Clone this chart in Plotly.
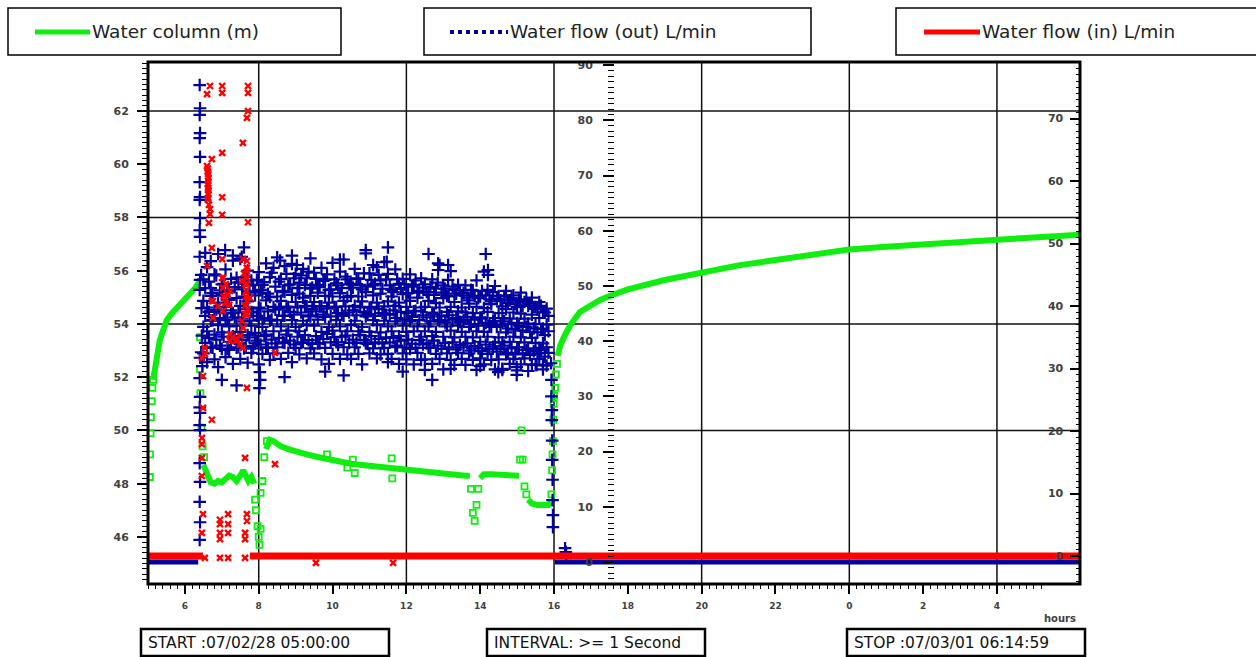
import plotly.graph_objects as go

# ---------------- data ----------------
# hours since 00:00 of 07/02/28 (24+ = next day)
x_tick_vals = [6, 8, 10, 12, 14, 16, 18, 20, 22, 24, 26, 28, 30]
x_tick_text = ["6", "8", "10", "12", "14", "16", "18", "20", "22", "0", "2", "4", "6"]
grid_hours = [8, 12, 16, 20, 24, 28]
grid_m = [50, 54, 58, 62]

# Water column (m) - dense logged segments (None = break)
wc_line_t = [5.14, 5.19, 5.24, 5.32, 5.42, 5.51, 5.65, 5.78, 5.92, 6.05, 6.15, 6.28, 6.40, None,
             6.50, 6.55, 6.62, 6.70, 6.80, 6.90, 7.00, 7.10, 7.20, 7.30, 7.40, 7.50, 7.58, 7.65, 7.72, 7.80, 7.88, None,
             8.20, 8.30, 8.40, 8.60, 8.80, 9.00, 9.30, 9.60, 9.90, 10.20, 10.50, 10.80, 11.10, 11.40, 11.70,
             12.00, 12.40, 12.80, 13.20, 13.60, 13.72, None,
             14.00, 14.10, 14.30, 14.60, 14.90, 15.05, None,
             15.30, 15.40, 15.55, 15.70, 15.85, 15.92, None,
             16.10, 16.17, 16.30, 16.44, 16.70, 17.00, 17.25, 17.50, 18.00, 19.00, 20.00, 21.00, 22.00,
             23.00, 24.00, 25.00, 26.00, 27.00, 28.00, 29.00, 30.25]
wc_line_m = [51.9, 52.3, 52.6, 53.4, 53.8, 54.15, 54.4, 54.6, 54.8, 54.95, 55.15, 55.35, 55.6, None,
             48.7, 48.5, 48.3, 48.05, 48.0, 48.1, 48.05, 48.2, 48.3, 48.25, 48.1, 48.3, 48.5, 48.3, 48.1, 48.25, 48.0, None,
             49.3, 49.65, 49.6, 49.4, 49.3, 49.2, 49.1, 49.0, 48.9, 48.85, 48.75, 48.7, 48.65, 48.6, 48.55,
             48.5, 48.45, 48.4, 48.35, 48.3, 48.3, None,
             48.2, 48.35, 48.35, 48.35, 48.3, 48.3, None,
             47.4, 47.25, 47.2, 47.2, 47.2, 47.3, None,
             52.8, 53.2, 53.6, 53.95, 54.45, 54.7, 54.9, 55.05, 55.3, 55.65, 55.95, 56.2, 56.4,
             56.6, 56.8, 56.9, 57.0, 57.1, 57.15, 57.25, 57.35]
# Water column - isolated readings during fast changes
wc_pts_t = [5.05, 5.055, 5.07, 5.08, 5.10, 5.12, 5.14,
            6.41, 6.41, 6.42, 6.45, 6.48, 6.52,
            7.90, 7.92, 7.97, 8.00, 8.02, 8.05, 8.05, 8.10, 8.15, 8.22,
            9.85, 10.40, 10.55, 10.60, 11.60, 11.62,
            13.75, 13.80, 13.85, 13.90, 13.95,
            15.08, 15.12, 15.15, 15.20, 15.25,
            15.93, 15.95, 15.96, 15.97, 15.98, 15.99, 16.00, 16.03, 16.05, 16.08]
wc_pts_m = [48.25, 49.1, 49.9, 50.5, 51.1, 51.6, 51.9,
            53.5, 52.3, 51.4, 50.1, 49.4, 49.0,
            47.4, 47.0, 46.4, 46.0, 45.7, 46.3, 47.65, 48.1, 49.0, 49.6,
            49.1, 48.6, 48.9, 48.4, 48.95, 48.2,
            47.8, 46.9, 46.6, 47.2, 47.8,
            48.9, 50.0, 48.9, 47.9, 47.6,
            47.6, 48.5, 49.1, 49.6, 50.4, 51.0, 51.3, 51.6, 52.1, 52.5]

# Water flow (out) L/min
out_base_t = [5.0, 6.36, None, 16.02, 30.25]
out_base_v = [0, 0, None, 0, 0]
# readings on the 0.1 h grid
out_t1 = [6.5, 6.6, 6.7, 6.8, 6.9, 7.0, 7.1, 7.2, 7.3, 7.4,
          7.5, 7.6, 7.7, 7.8, 7.9, 8.0, 8.1, 8.2, 8.3, 8.4,
          8.5, 8.6, 8.7, 8.8, 8.9, 9.0, 9.1, 9.2, 9.3, 9.4,
          9.5, 9.6, 9.7, 9.8, 9.9, 10.0, 10.1, 10.2, 10.3, 10.4,
          10.5, 10.6, 10.7, 10.8, 10.9, 11.0, 11.1, 11.2, 11.3, 11.4,
          11.5, 11.6, 11.7, 11.8, 11.9, 12.0, 12.1, 12.2, 12.3, 12.4,
          12.5, 12.6, 12.7, 12.8, 12.9, 13.0, 13.1, 13.2, 13.3, 13.4,
          13.5, 13.6, 13.7, 13.8, 13.9, 14.0, 14.1, 14.2, 14.3, 14.4,
          14.5, 14.6, 14.7, 14.8, 14.9, 15.0, 15.1, 15.2, 15.3, 15.4,
          15.5, 15.6, 15.7, 15.8]
out_a1 = [51.2, 53.4, 49.6, 52.1, 55.8, 50.3, 53.0, 49.2, 54.6, 51.5,
          54.9, 50.4, 52.8, 51.0, 49.1, 52.5, 50.2, 54.1, 51.6, 53.3,
          55.2, 51.3, 53.6, 50.1, 54.0, 52.2, 50.6, 53.1, 51.4, 49.5,
          52.4, 50.2, 53.3, 51.1, 49.3, 54.2, 50.5, 52.6, 54.8, 51.2,
          50.4, 53.1, 51.3, 49.4, 55.9, 52.3, 50.1, 53.4, 51.0, 54.3,
          52.2, 49.3, 53.0, 50.4, 51.3, 48.6, 52.1, 50.2, 49.1, 51.4,
          50.3, 48.4, 51.2, 49.5, 53.8, 50.1, 48.2, 52.7, 49.3, 50.2,
          48.3, 50.1, 47.4, 49.2, 51.0, 48.1, 52.6, 49.3, 47.2, 50.0,
          48.2, 46.3, 49.1, 47.4, 48.3, 46.2, 48.8, 47.1, 46.4, 47.9,
          46.2, 47.1, 45.3, 45.9]
out_b1 = [47.3, 46.1, 48.2, 45.4, 47.0, 48.4, 46.2, 47.5, 45.1, 47.8,
          46.4, 48.1, 47.2, 45.3, 48.3, 46.1, 48.8, 47.4, 48.0, 46.2,
          48.1, 47.3, 48.9, 46.2, 48.4, 47.1, 48.6, 47.9, 46.3, 48.2,
          47.1, 48.8, 46.3, 48.2, 47.0, 48.1, 46.2, 48.7, 47.3, 48.0,
          48.2, 46.4, 48.1, 47.2, 48.9, 46.1, 48.3, 47.0, 48.6, 46.3,
          47.2, 48.1, 46.4, 47.0, 48.5, 46.2, 47.3, 45.4, 47.9, 46.1,
          46.2, 47.3, 45.2, 46.9, 46.1, 47.8, 45.3, 46.2, 47.1, 45.4,
          46.1, 45.2, 46.8, 45.1, 46.2, 44.3, 46.0, 45.3, 46.7, 44.2,
          45.1, 44.2, 45.8, 44.1, 45.2, 43.3, 45.0, 44.1, 43.2, 44.8,
          43.1, 44.2, 42.3, 43.0]
out_c1 = [42.6, 41.8, 43.7, 41.2, 42.9, 41.6, 43.8, 42.7, 40.9, 42.8,
          41.7, 43.6, 41.1, 42.8, 41.5, 43.9, 42.6, 41.2, 43.7, 41.8,
          43.8, 42.7, 44.6, 41.9, 43.8, 42.6, 41.8, 43.7, 42.9, 44.5,
          42.8, 43.9, 41.7, 44.4, 42.6, 41.9, 43.8, 42.7, 44.6, 41.8,
          42.9, 43.7, 41.8, 42.6, 44.5, 41.7, 43.8, 42.9, 41.6, 43.7,
          42.7, 41.8, 43.6, 40.9, 42.8, 41.7, 43.6, 41.8, 42.7, 40.8,
          41.8, 42.7, 40.9, 41.7, 43.6, 40.8, 42.7, 41.9, 40.7, 42.8,
          41.7, 40.8, 42.6, 40.7, 41.8, 39.9, 41.7, 40.8, 42.6, 39.8,
          40.7, 39.8, 41.6, 39.9, 40.8, 38.9, 40.7, 39.8, 38.7, 40.6,
          39.7, 38.8, 39.6, 38.9]
out_d1 = [37.8, 36.2, 38.9, 36.7, 35.3, 38.6, 37.1, 38.4, 35.9, 38.8,
          36.8, 38.7, 36.1, 37.9, 39.6, 35.8, 37.7, 38.9, 36.6, 37.8,
          38.9, 36.8, 39.7, 37.9, 36.2, 38.8, 37.6, 39.8, 36.9, 38.7,
          37.8, 39.6, 36.7, 38.8, 35.9, 37.7, 39.8, 36.8, 38.9, 37.6,
          36.8, 38.9, 37.7, 35.8, 39.6, 37.8, 38.7, 36.9, 37.6, 38.8,
          37.7, 36.8, 38.9, 35.9, 37.8, 36.7, 38.6, 35.8, 37.9, 36.6,
          36.7, 38.8, 35.9, 37.7, 36.8, 34.9, 37.8, 36.6, 35.7, 37.9,
          36.8, 35.7, 37.8, 36.6, 34.8, 36.9, 35.8, 37.7, 36.6, 34.9,
          36.7, 34.8, 37.6, 35.9, 36.8, 34.7, 35.8, 36.9, 34.6, 35.8,
          35.7, 36.8, 34.9, 35.6]
# readings in between (0.05 h later)
out_t2 = [6.55, 6.65, 6.75, 6.85, 6.95, 7.05, 7.15, 7.25, 7.35, 7.45,
          7.55, 7.65, 7.75, 7.85, 7.95, 8.05, 8.15, 8.25, 8.35, 8.45,
          8.55, 8.65, 8.75, 8.85, 8.95, 9.05, 9.15, 9.25, 9.35, 9.45,
          9.55, 9.65, 9.75, 9.85, 9.95, 10.05, 10.15, 10.25, 10.35, 10.45,
          10.55, 10.65, 10.75, 10.85, 10.95, 11.05, 11.15, 11.25, 11.35, 11.45,
          11.55, 11.65, 11.75, 11.85, 11.95, 12.05, 12.15, 12.25, 12.35, 12.45,
          12.55, 12.65, 12.75, 12.85, 12.95, 13.05, 13.15, 13.25, 13.35, 13.45,
          13.55, 13.65, 13.75, 13.85, 13.95, 14.05, 14.15, 14.25, 14.35, 14.45,
          14.55, 14.65, 14.75, 14.85, 14.95, 15.05, 15.15, 15.25, 15.35, 15.45,
          15.55, 15.65, 15.75, 15.85]
out_e2 = [49.6, 50.8, 48.7, 51.9, 49.2, 50.4, 48.9, 51.3, 49.8, 50.6,
          49.4, 51.6, 48.8, 50.2, 51.1, 49.3, 50.7, 48.6, 52.4, 49.9,
          50.8, 49.1, 52.2, 50.3, 51.4, 49.6, 51.9, 50.2, 52.6, 49.7,
          51.3, 49.8, 50.9, 52.1, 49.4, 51.2, 50.1, 49.6, 51.7, 50.3,
          49.7, 51.4, 50.2, 52.3, 49.9, 51.1, 50.4, 52.0, 49.5, 51.2,
          50.1, 48.9, 51.2, 49.6, 50.3, 48.7, 49.9, 51.0, 48.8, 49.7,
          48.9, 49.8, 48.4, 50.6, 48.8, 49.5, 48.1, 49.9, 48.6, 49.2,
          48.7, 47.9, 49.3, 48.2, 47.8, 49.1, 48.3, 47.6, 48.9, 47.7,
          47.4, 48.2, 46.9, 47.8, 46.7, 47.5, 46.4, 47.6, 46.8, 46.2,
          45.8, 46.4, 45.2, 44.6]
out_f2 = [44.6, 45.3, 43.8, 45.7, 44.2, 45.1, 43.9, 45.6, 44.3, 45.2,
          44.1, 45.8, 43.7, 45.2, 44.6, 45.9, 44.2, 45.4, 43.9, 45.7,
          45.9, 44.6, 46.2, 45.3, 44.8, 46.1, 45.2, 46.4, 44.7, 45.8,
          45.4, 46.3, 44.8, 45.9, 44.5, 46.2, 45.1, 44.9, 46.3, 45.2,
          45.6, 44.7, 46.1, 45.3, 44.9, 46.2, 44.6, 45.8, 45.1, 44.8,
          44.9, 45.6, 44.2, 45.3, 43.9, 45.1, 44.4, 45.5, 43.8, 44.7,
          44.3, 43.6, 44.9, 43.8, 44.5, 43.4, 44.7, 43.9, 44.2, 43.5,
          43.8, 44.4, 43.1, 43.9, 42.8, 44.1, 43.3, 42.9, 43.7, 42.6,
          42.9, 43.6, 42.3, 43.1, 42.1, 42.8, 41.9, 42.6, 41.7, 42.3,
          41.6, 42.2, 41.1, 41.8]
out_g2 = [39.7, 40.6, 38.8, 40.3, 39.2, 40.8, 38.6, 39.9, 40.4, 38.9,
          40.2, 39.1, 40.7, 38.7, 40.1, 39.4, 40.9, 38.8, 40.3, 39.6,
          40.6, 39.8, 41.2, 40.1, 39.4, 40.8, 39.7, 41.1, 40.2, 39.5,
          40.9, 39.6, 40.4, 41.3, 39.8, 40.7, 39.3, 40.8, 41.0, 39.7,
          40.3, 39.7, 41.1, 40.2, 39.5, 40.9, 39.8, 40.4, 39.6, 40.7,
          39.8, 40.6, 39.2, 40.1, 38.9, 40.3, 39.5, 38.8, 40.2, 39.4,
          39.6, 38.8, 40.1, 39.2, 38.6, 39.7, 38.9, 39.8, 38.5, 39.3,
          38.9, 39.6, 38.3, 39.1, 38.7, 38.2, 39.4, 38.6, 39.0, 38.1,
          38.6, 39.2, 37.9, 38.7, 37.6, 38.9, 37.8, 38.4, 37.5, 38.2,
          37.8, 38.4, 37.2, 37.9]
out_pts_t = [6.40, 6.41, 6.40, 6.41, 6.40, 6.41, 6.40, 6.41, 6.40, 6.41, 6.40, 6.41, 6.40, 6.41, 6.40,
             6.41, 6.40, 6.41, 6.40, 6.41, 6.40, 6.41, 6.40, 6.41, 6.40, 6.41, 6.40,
             6.44, 6.45, 6.46, 6.44, 6.47,
             8.02, 8.03, 8.04,
             6.55, 6.70, 7.09, 7.30, 7.54, 7.60, 8.58, 8.90, 9.03, 9.40, 10.20, 10.90, 11.10, 11.47,
             11.50, 12.60, 12.86, 12.86, 13.13, 13.13, 14.15, 14.21, 14.21,
             7.00, 7.40, 8.70, 9.80, 10.30, 11.50, 11.90, 12.50, 12.70, 13.20, 14.00, 14.49, 14.60,
             14.99, 14.99, 15.53, 15.70,
             15.92, 15.93, 15.93, 15.94, 15.94, 15.95, 15.95, 15.96, 15.96, 15.97, 15.97,
             16.30, 16.32, 16.33]
out_pts_v = [86.4, 82.2, 81.0, 77.7, 76.8, 73.4, 68.8, 66.1, 65.6, 62.3, 60.1, 58.9, 55.3, 51.1, 49.3,
             37.0, 33.3, 29.9, 28.0, 27.0, 24.8, 23.9, 17.9, 14.5, 10.9, 7.2, 4.0,
             52.0, 46.0, 41.0, 38.0, 35.5,
             31.5, 34.4, 33.0,
             56.0, 54.5, 56.5, 55.5, 55.3, 57.0, 54.6, 55.5, 53.8, 55.0, 54.8, 56.5, 53.8, 54.4,
             57.0, 55.8, 54.1, 52.9, 53.8, 51.1, 55.8, 52.9, 52.0,
             33.0, 32.0, 33.5, 34.5, 33.8, 36.2, 34.5, 34.8, 33.0, 35.0, 35.5, 34.4, 35.0,
             35.3, 33.9, 35.7, 35.6,
             36.0, 33.0, 30.0, 27.5, 25.7, 22.0, 18.5, 14.9, 11.2, 8.5, 6.3,
             2.5, 1.8, 1.2]

# Water flow (in) L/min
in_line_t = [5.0, 6.49, None, 7.76, 30.25]
in_line_v = [0, 0, None, 0, 0]
in_pts_t = [6.68, 7.01, 7.71, 6.60, 7.01, 7.71, 7.71, 7.68, 7.57, 7.01, 6.73, 6.60,
            6.63, 6.63, 6.63, 6.63, 6.63, 7.01, 6.68, 7.01, 6.65, 7.71, 6.73, 7.01,
            6.60, 7.68, 7.68, 7.68, 7.01, 7.11, 7.22, 7.55, 7.66, 7.76, 6.73, 6.90,
            7.03, 7.68, 7.68, 7.55, 7.22, 7.38, 7.57, 6.54, 6.54, 8.44, 7.68, 6.49,
            6.73, 6.46, 6.46, 7.63, 6.46, 8.44, 6.46, 6.49, 6.95, 6.95, 7.17, 7.17,
            7.68, 7.68, 6.46, 6.95, 7.17, 7.63, 6.95, 7.63, 6.54, 6.95, 7.17, 7.63,
            9.55, 11.64,
            7.57, 7.68, 7.68, 7.03, 7.03, 7.63, 7.63, 7.63, 6.76, 6.76, 7.22, 7.49, 6.49, 6.46,
            6.62, 6.62, 6.64, 6.62, 6.64, 6.62, 6.65, 6.68,
            7.05, 7.10, 7.15, 7.20, 7.60, 7.65, 7.70, 7.58, 7.30, 7.40, 7.50]
in_pts_v = [75.2, 75.2, 75.2, 73.9, 74.1, 74.1, 71.2, 70.1, 66.1, 64.5, 63.5, 62.4,
            61.1, 60.0, 58.9, 57.9, 57.3, 57.4, 54.7, 54.6, 53.3, 53.4, 49.3, 47.5,
            46.4, 47.2, 45.6, 43.5, 44.5, 43.5, 42.4, 44.0, 42.4, 41.3, 40.8, 40.0,
            39.2, 40.8, 38.7, 37.6, 35.5, 34.4, 33.3, 33.3, 32.3, 32.5, 26.9, 23.7,
            21.8, 18.9, 17.9, 15.7, 15.7, 14.7, 12.8, 6.7, 5.8, 5.1, 6.7, 5.1,
            6.7, 5.6, 3.7, 3.7, 3.7, 3.7, 2.7, 2.7, -0.3, -0.3, -0.3, -0.3,
            -1.1, -1.1,
            47.5, 46.1, 44.5, 44.5, 42.9, 43.5, 40.0, 38.7, 40.8, 38.1, 34.4, 33.9, 28.8, 31.7,
            62.0, 61.5, 60.5, 59.5, 58.5, 57.0, 56.2, 55.5,
            41.5, 40.5, 41.8, 40.2, 45.2, 41.5, 39.5, 36.5, 35.0, 34.8, 35.2]

# ---------------- figure ----------------
GREEN = "#10ee10"
BLUE = "#0000a0"
RED = "#ff0000"
TICKC = "#404040"

fig = go.Figure()

fig.add_trace(go.Scatter(x=out_base_t, y=out_base_v, yaxis="y2", mode="lines",
                         line=dict(color=BLUE, width=5), hoverinfo="skip", showlegend=False))
fig.add_trace(go.Scatter(x=in_line_t, y=in_line_v, yaxis="y3", mode="lines",
                         line=dict(color=RED, width=7), hoverinfo="skip", showlegend=False))
cloud_x = out_t1 * 4 + out_t2 * 3
cloud_y = out_a1 + out_b1 + out_c1 + out_d1 + out_e2 + out_f2 + out_g2
fig.add_trace(go.Scatter(x=cloud_x + out_pts_t, y=cloud_y + out_pts_v, yaxis="y2", mode="markers",
                         marker=dict(symbol="cross-thin", size=9, line=dict(color=BLUE, width=2.2)),
                         showlegend=False))
fig.add_trace(go.Scatter(x=in_pts_t, y=in_pts_v, yaxis="y3", mode="markers",
                         marker=dict(symbol="x-thin", size=6, line=dict(color=RED, width=2.4)),
                         showlegend=False))
fig.add_trace(go.Scatter(x=wc_line_t, y=wc_line_m, yaxis="y", mode="lines",
                         line=dict(color=GREEN, width=6), connectgaps=False, showlegend=False))
fig.add_trace(go.Scatter(x=wc_pts_t, y=wc_pts_m, yaxis="y", mode="markers",
                         marker=dict(symbol="square-open", size=6, line=dict(color=GREEN, width=1.8),
                                     color=GREEN), showlegend=False))

tickfont_y = dict(family="DejaVu Sans", size=11, color=TICKC, weight="bold")
tickfont_x = dict(family="DejaVu Sans", size=9, color=TICKC, weight="bold")

fig.update_layout(
    width=1256, height=657,
    margin=dict(l=148, r=176, t=62, b=73),
    paper_bgcolor="white", plot_bgcolor="white",
    showlegend=False,
    xaxis=dict(range=[5.0, 30.25], tickmode="array", tickvals=x_tick_vals, ticktext=x_tick_text,
               ticks="outside", ticklen=9, tickwidth=1.5, tickcolor="black",
               minor=dict(dtick=0.2, tick0=0, ticks="outside", ticklen=4, tickwidth=1, tickcolor="black"),
               showgrid=False, zeroline=False, showline=False, tickfont=tickfont_x,
               ticklabelstandoff=4),
    yaxis=dict(range=[44.23, 63.84], dtick=2, tick0=0, ticks="outside", ticklen=10, tickwidth=1.5,
               tickcolor="black",
               minor=dict(dtick=0.2, tick0=0, ticks="outside", ticklen=5, tickwidth=1, tickcolor="black"),
               showgrid=False, zeroline=False, showline=False, tickfont=tickfont_y,
               ticklabelstandoff=6),
    yaxis2=dict(range=[-3.99, 90.58], overlaying="y", anchor="free", position=0.5, side="left",
                dtick=10, tick0=0, ticks="outside", ticklen=11, tickwidth=1.5, tickcolor="black",
                minor=dict(dtick=1, tick0=0, ticks="outside", ticklen=6, tickwidth=1, tickcolor="black"),
                showgrid=False, zeroline=False, showline=False, tickfont=tickfont_y,
                ticklabelstandoff=8),
    yaxis3=dict(range=[-4.48, 79.04], overlaying="y", anchor="x", side="right",
                dtick=10, tick0=0, ticks="inside", ticklen=10, tickwidth=1.5, tickcolor="black",
                ticklabelposition="inside",
                minor=dict(dtick=1, tick0=0, ticks="inside", ticklen=4, tickwidth=1, tickcolor="black"),
                showgrid=False, zeroline=False, showline=False, tickfont=tickfont_y,
                ticklabelstandoff=6),
)

shapes = []
for h in grid_hours:
    shapes.append(dict(type="line", xref="x", yref="paper", x0=h, x1=h, y0=0, y1=1,
                       line=dict(color="#111", width=1.5), layer="below"))
for m in grid_m:
    shapes.append(dict(type="line", xref="paper", yref="y", x0=0, x1=1, y0=m, y1=m,
                       line=dict(color="#111", width=1.5), layer="below"))
# plot frame
shapes.append(dict(type="rect", xref="paper", yref="paper", x0=0, x1=1, y0=0, y1=1,
                   line=dict(color="black", width=3), layer="above"))


def px_x(px):
    return (px - 148) / 932.0


def px_y(py):
    return (584 - py) / 522.0


# legend boxes at top
legend_items = [
    (8, 341, 35, 90, GREEN, "solid", "Water column (m)"),
    (424, 811, 450, 508, BLUE, "dot", "Water flow (out) L/min"),
    (896, 1300, 924, 980, RED, "solid", "Water flow (in) L/min"),
]
annotations = []
for bx0, bx1, lx0, lx1, col, dash, label in legend_items:
    shapes.append(dict(type="rect", xref="paper", yref="paper", x0=px_x(bx0), x1=px_x(bx1),
                       y0=px_y(55), y1=px_y(8), line=dict(color="black", width=1.5),
                       fillcolor="white", layer="above"))
    shapes.append(dict(type="line", xref="paper", yref="paper", x0=px_x(lx0), x1=px_x(lx1),
                       y0=px_y(32), y1=px_y(32),
                       line=dict(color=col, width=5 if dash == "solid" else 4, dash=dash),
                       layer="above"))
    annotations.append(dict(xref="paper", yref="paper", x=px_x(lx1), y=px_y(32), xanchor="left",
                            yanchor="middle", showarrow=False, text=label,
                            font=dict(family="DejaVu Sans", size=18.5, color="#222")))

# info boxes at bottom
info_items = [
    (141, 389, "START :07/02/28 05:00:00"),
    (487, 705, "INTERVAL: >= 1 Second"),
    (847, 1085, "STOP :07/03/01 06:14:59"),
]
for bx0, bx1, label in info_items:
    shapes.append(dict(type="rect", xref="paper", yref="paper", x0=px_x(bx0), x1=px_x(bx1),
                       y0=px_y(656), y1=px_y(629), line=dict(color="black", width=2.5),
                       fillcolor="white", layer="above"))
    annotations.append(dict(xref="paper", yref="paper", x=px_x(bx0 + 5), y=px_y(643), xanchor="left",
                            yanchor="middle", showarrow=False, text=label,
                            font=dict(family="DejaVu Sans", size=15.5, color="#111")))

annotations.append(dict(xref="paper", yref="paper", x=px_x(1060), y=px_y(618), xanchor="center",
                        yanchor="middle", showarrow=False, text="hours",
                        font=dict(family="DejaVu Sans", size=10, color=TICKC, weight="bold")))

fig.update_layout(shapes=shapes, annotations=annotations)
fig.write_html("out.html", config={"displayModeBar": False},
               post_script="document.body.style.margin='0px';")
